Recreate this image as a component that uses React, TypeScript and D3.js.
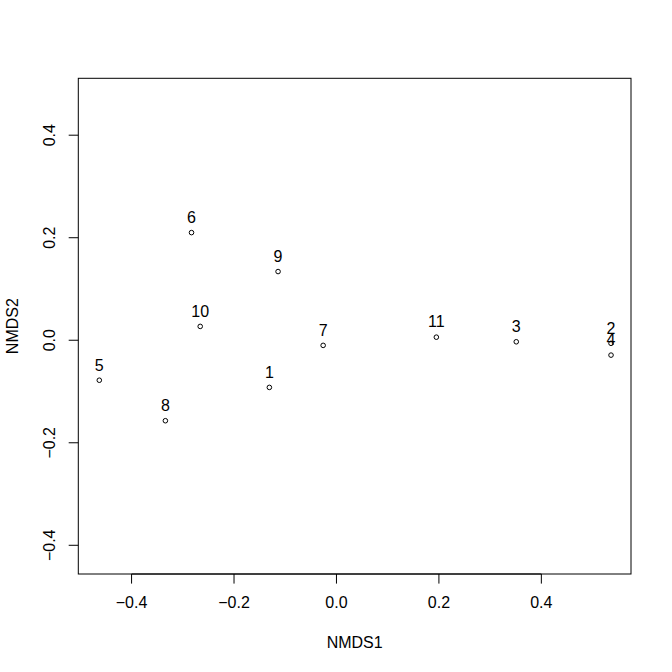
import React from "react";
import * as d3 from "d3";

const siteLabels = ["1", "2", "3", "4", "5", "6", "7", "8", "9", "10", "11"];
const nmds1 = [-0.131, 0.536, 0.351, 0.536, -0.463, -0.283, -0.026, -0.334, -0.114, -0.266, 0.195];
const nmds2 = [-0.092, -0.006, -0.003, -0.029, -0.078, 0.210, -0.010, -0.157, 0.134, 0.027, 0.006];
const xTicks = [-0.4, -0.2, 0.0, 0.2, 0.4];
const yTicks = [-0.4, -0.2, 0.0, 0.2, 0.4];
const xDomain = [-0.504, 0.575];
const yDomain = [-0.456, 0.511];

const W = 672, H = 672;
const left = 78.3, right = 631, top = 78.3, bottom = 574;
const FONT = "'Liberation Sans', Arial, sans-serif";

export default function App() {
  const x = d3.scaleLinear().domain(xDomain).range([left, right]);
  const y = d3.scaleLinear().domain(yDomain).range([bottom, top]);
  const fmt = d3.format(".1f");
  const tick = 9.6;
  return (
    <svg width={W} height={H} style={{ position: "absolute", left: 0, top: 0, background: "#fff" }}
      fontFamily={FONT} fontSize={16}>
      <rect x={0} y={0} width={W} height={H} fill="#fff" />
      <rect x={left} y={top} width={right - left} height={bottom - top} fill="none" stroke="#000" strokeWidth={1} />
      {/* x axis */}
      <line x1={x(xTicks[0])} x2={x(xTicks[xTicks.length - 1])} y1={bottom} y2={bottom} stroke="#000" />
      {xTicks.map((t) => (
        <g key={"x" + t}>
          <line x1={x(t)} x2={x(t)} y1={bottom} y2={bottom + tick} stroke="#000" />
          <text x={x(t)} y={608} textAnchor="middle" fill="#000">{fmt(t)}</text>
        </g>
      ))}
      {/* y axis */}
      {yTicks.map((t) => (
        <g key={"y" + t}>
          <line x1={left - tick} x2={left} y1={y(t)} y2={y(t)} stroke="#000" />
          <text transform={`translate(55,${y(t)}) rotate(-90)`} textAnchor="middle" fill="#000">{fmt(t)}</text>
        </g>
      ))}
      <text x={(left + right) / 2} y={648} textAnchor="middle" fill="#000">NMDS1</text>
      <text transform={`translate(18.3,${(top + bottom) / 2}) rotate(-90)`} textAnchor="middle" fill="#000">NMDS2</text>
      {/* points */}
      {siteLabels.map((lab, i) => (
        <g key={lab}>
          <circle cx={x(nmds1[i])} cy={y(nmds2[i])} r={2.3} fill="none" stroke="#000" strokeWidth={1} />
          <text x={x(nmds1[i])} y={y(nmds2[i]) - 9.7} textAnchor="middle" fill="#000">{lab}</text>
        </g>
      ))}
    </svg>
  );
}
